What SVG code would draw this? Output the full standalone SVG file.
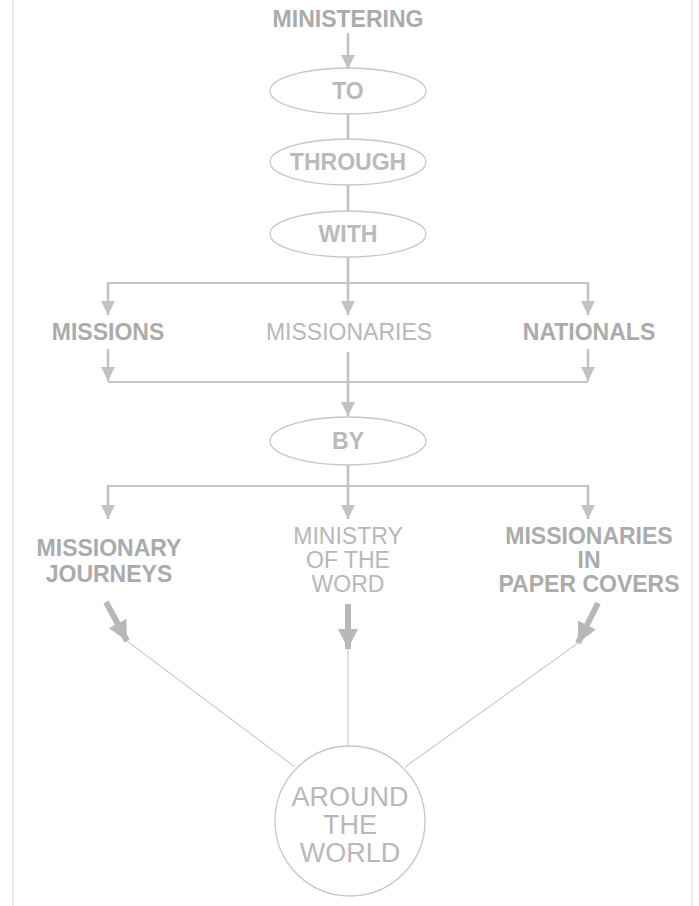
<svg xmlns="http://www.w3.org/2000/svg" width="699" height="906" viewBox="0 0 699 906">
<style>
  .t { font-family: "Liberation Sans", Arial, sans-serif; font-size: 23px; text-anchor: middle; }
  .b { font-weight: bold; fill: #ababab; }
  .l { font-weight: normal; fill: #b8b8b8; }
  .e { font-weight: bold; fill: #bababa; }
  .shape { fill: none; stroke: #c6c6c6; stroke-width: 1.3; }
  .stem { fill: none; stroke: #c2c2c2; stroke-width: 2.6; }
  .bar { fill: none; stroke: #c6c6c6; stroke-width: 1.8; }
  .thick { fill: none; stroke: #b8b8b8; stroke-width: 6; }
  .thin { fill: none; stroke: #cdcdcd; stroke-width: 1.2; }
  .edge { stroke: #d2d2d2; stroke-width: 1; }
</style>
<defs>
  <marker id="arr" markerUnits="userSpaceOnUse" markerWidth="14" markerHeight="14" refX="14" refY="7" orient="auto">
    <path d="M0,0 L14,7 L0,14 z" fill="#c2c2c2"/>
  </marker>
  <marker id="arrT" markerUnits="userSpaceOnUse" markerWidth="20" markerHeight="20" refX="20" refY="10" orient="auto">
    <path d="M0,0 L20,10 L0,20 z" fill="#b8b8b8"/>
  </marker>
</defs>
<rect width="699" height="906" fill="#ffffff"/>
<line class="edge" x1="13" y1="0" x2="13" y2="906"/>
<line class="edge" x1="692" y1="0" x2="692" y2="906"/>

<g id="connectors">
  <line class="stem" x1="348" y1="33" x2="348" y2="69" marker-end="url(#arr)"/>
  <line class="stem" x1="348" y1="114" x2="348" y2="140"/>
  <line class="stem" x1="348" y1="185" x2="348" y2="211"/>
  <line class="stem" x1="348" y1="257" x2="348" y2="283"/>
  <line class="bar" x1="108" y1="283" x2="588" y2="283"/>
  <line class="stem" x1="108" y1="282" x2="108" y2="315" marker-end="url(#arr)"/>
  <line class="stem" x1="348" y1="282" x2="348" y2="315" marker-end="url(#arr)"/>
  <line class="stem" x1="588" y1="282" x2="588" y2="315" marker-end="url(#arr)"/>
  <line class="stem" x1="108" y1="349" x2="108" y2="381" marker-end="url(#arr)"/>
  <line class="stem" x1="588" y1="349" x2="588" y2="381" marker-end="url(#arr)"/>
  <line class="bar" x1="108" y1="382" x2="588" y2="382"/>
  <line class="stem" x1="348" y1="352" x2="348" y2="416" marker-end="url(#arr)"/>
  <line class="stem" x1="348" y1="465" x2="348" y2="486"/>
  <line class="bar" x1="108" y1="486" x2="588" y2="486"/>
  <line class="stem" x1="108" y1="485" x2="108" y2="519" marker-end="url(#arr)"/>
  <line class="stem" x1="348" y1="485" x2="348" y2="519" marker-end="url(#arr)"/>
  <line class="stem" x1="588" y1="485" x2="588" y2="519" marker-end="url(#arr)"/>
  <line class="thick" x1="106" y1="602" x2="127" y2="641" marker-end="url(#arrT)"/>
  <line class="thick" x1="348" y1="604" x2="348" y2="649" marker-end="url(#arrT)"/>
  <line class="thick" x1="598" y1="603" x2="578" y2="643" marker-end="url(#arrT)"/>
  <line class="thin" x1="127" y1="641" x2="295" y2="767"/>
  <line class="thin" x1="348" y1="649" x2="348" y2="746"/>
  <line class="thin" x1="578" y1="643" x2="405" y2="767"/>
</g>

<g id="ministering">
  <text class="t b" x="348" y="27">MINISTERING</text>
</g>
<g id="to">
  <ellipse class="shape" cx="348" cy="91" rx="78" ry="23"/>
  <text class="t e" x="348" y="99">TO</text>
</g>
<g id="through">
  <ellipse class="shape" cx="348" cy="162" rx="78" ry="23"/>
  <text class="t e" x="348" y="170">THROUGH</text>
</g>
<g id="with">
  <ellipse class="shape" cx="348" cy="234" rx="78" ry="23"/>
  <text class="t e" x="348" y="242">WITH</text>
</g>
<g id="missions">
  <text class="t b" x="108" y="340">MISSIONS</text>
</g>
<g id="missionaries">
  <text class="t l" x="349" y="340">MISSIONARIES</text>
</g>
<g id="nationals">
  <text class="t b" x="589" y="340">NATIONALS</text>
</g>
<g id="by">
  <ellipse class="shape" cx="348" cy="441" rx="78" ry="24"/>
  <text class="t e" x="348" y="449">BY</text>
</g>
<g id="missionary-journeys">
  <text class="t b" x="109" y="556">MISSIONARY</text>
  <text class="t b" x="109" y="582">JOURNEYS</text>
</g>
<g id="ministry-of-the-word">
  <text class="t l" x="348" y="544">MINISTRY</text>
  <text class="t l" x="348" y="568">OF THE</text>
  <text class="t l" x="348" y="592">WORD</text>
</g>
<g id="missionaries-in-paper-covers">
  <text class="t b" x="589" y="544">MISSIONARIES</text>
  <text class="t b" x="589" y="568">IN</text>
  <text class="t b" x="589" y="592">PAPER COVERS</text>
</g>
<g id="around-the-world">
  <circle class="shape" cx="350" cy="821" r="75"/>
  <text class="t l" style="font-size:27px" x="350" y="806">AROUND</text>
  <text class="t l" style="font-size:27px" x="350" y="834">THE</text>
  <text class="t l" style="font-size:27px" x="350" y="862">WORLD</text>
</g>
</svg>
